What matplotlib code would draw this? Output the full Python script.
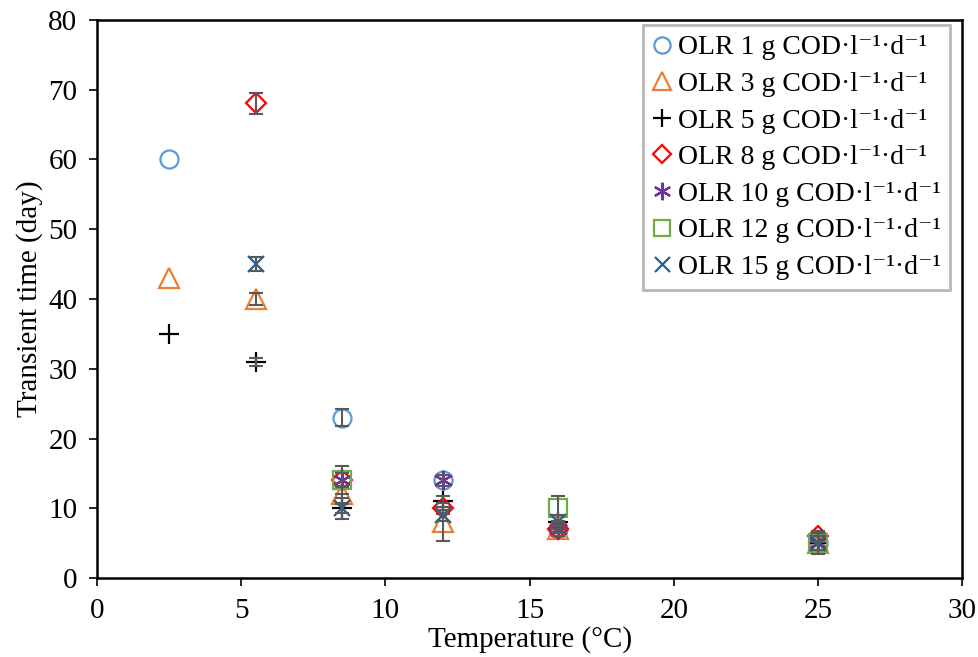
import numpy as np
import matplotlib
matplotlib.use('Agg')
import matplotlib.pyplot as plt

plt.rcParams['font.family'] = ['Liberation Serif', 'DejaVu Serif']

# data
labels = ['OLR 1 g COD·l⁻¹·d⁻¹', 'OLR 3 g COD·l⁻¹·d⁻¹', 'OLR 5 g COD·l⁻¹·d⁻¹',
          'OLR 8 g COD·l⁻¹·d⁻¹', 'OLR 10 g COD·l⁻¹·d⁻¹', 'OLR 12 g COD·l⁻¹·d⁻¹',
          'OLR 15 g COD·l⁻¹·d⁻¹']

olr1_t = [2.5, 8.5, 12, 16, 25]
olr1_y = [60, 23, 14, 7, 5]
olr1_e = [0, 1.2, 0.8, 0, 0]

olr3_t = [2.5, 5.5, 8.5, 12, 16, 25]
olr3_y = [43, 40, 12, 8, 7, 5]
olr3_e = [0, 0.8, 1.2, 2.7, 0.5, 1]

olr5_t = [2.5, 5.5, 8.5, 12, 16, 25]
olr5_y = [35, 31, 10, 11, 8, 5]
olr5_e = [0, 0.6, 1.5, 0.8, 1, 1]

olr8_t = [5.5, 8.5, 12, 16, 25]
olr8_y = [68, 14, 10, 7, 6]
olr8_e = [1.5, 1, 0.8, 0.5, 0.8]

olr10_t = [8.5, 12, 16, 25]
olr10_y = [14, 14, 7, 5]
olr10_e = [1, 0.8, 1, 1]

olr12_t = [8.5, 16, 25]
olr12_y = [14, 10, 5]
olr12_e = [2, 1.8, 1.5]

olr15_t = [5.5, 8.5, 12, 16, 25]
olr15_y = [45, 10, 9, 8, 5]
olr15_e = [1, 0.6, 0.8, 1, 1]

series = [(olr1_t, olr1_y, olr1_e), (olr3_t, olr3_y, olr3_e), (olr5_t, olr5_y, olr5_e),
          (olr8_t, olr8_y, olr8_e), (olr10_t, olr10_y, olr10_e),
          (olr12_t, olr12_y, olr12_e), (olr15_t, olr15_y, olr15_e)]

colors = ['#5B9BD5', '#ED7D31', '#000000', '#FF0000', '#7030A0', '#70AD47', '#255E91']
markers = ['o', '^', '+', 'D', (6, 2, 0), 's', 'x']
sizes = [13, 14, 14, 10, 14, 13, 12]

fig = plt.figure(figsize=(9.79, 6.57), dpi=100)
ax = fig.add_axes([0.099, 0.120, 0.884, 0.850])

for (t, y, e), lab, c, m, s in zip(series, labels, colors, markers, sizes):
    ax.plot(t, y, linestyle='none', marker=m, markersize=s, markerfacecolor='none',
            markeredgecolor=c, markeredgewidth=1.6, label=lab, zorder=2)
    t = np.array(t)
    y = np.array(y)
    e = np.array(e)
    keep = e > 0
    ax.errorbar(t[keep], y[keep], yerr=e[keep], fmt='none', ecolor='#595959',
                elinewidth=1.5, capsize=5, capthick=1.5, zorder=3)

ax.set_xlim(0, 30)
ax.set_ylim(0, 80)
ax.set_xticks(range(0, 31, 5))
ax.set_yticks(range(0, 81, 10))
ax.tick_params(direction='out', length=6, width=1.2, labelsize=21, pad=8)
for sp in ax.spines.values():
    sp.set_linewidth(1.8)
ax.set_xlabel('Temperature (°C)', fontsize=21, labelpad=2)
ax.set_ylabel('Transient time (day)', fontsize=21, labelpad=4)

leg = ax.legend(loc='upper right', bbox_to_anchor=(0.986, 0.99), fontsize=20,
                frameon=True, fancybox=False, edgecolor='#A6A6A6',
                handlelength=0.7, handletextpad=0.2, borderpad=0.35,
                labelspacing=0.4, borderaxespad=0.0, markerscale=0.9)
leg.get_frame().set_linewidth(2)

fig.savefig('out.png', dpi=100)
